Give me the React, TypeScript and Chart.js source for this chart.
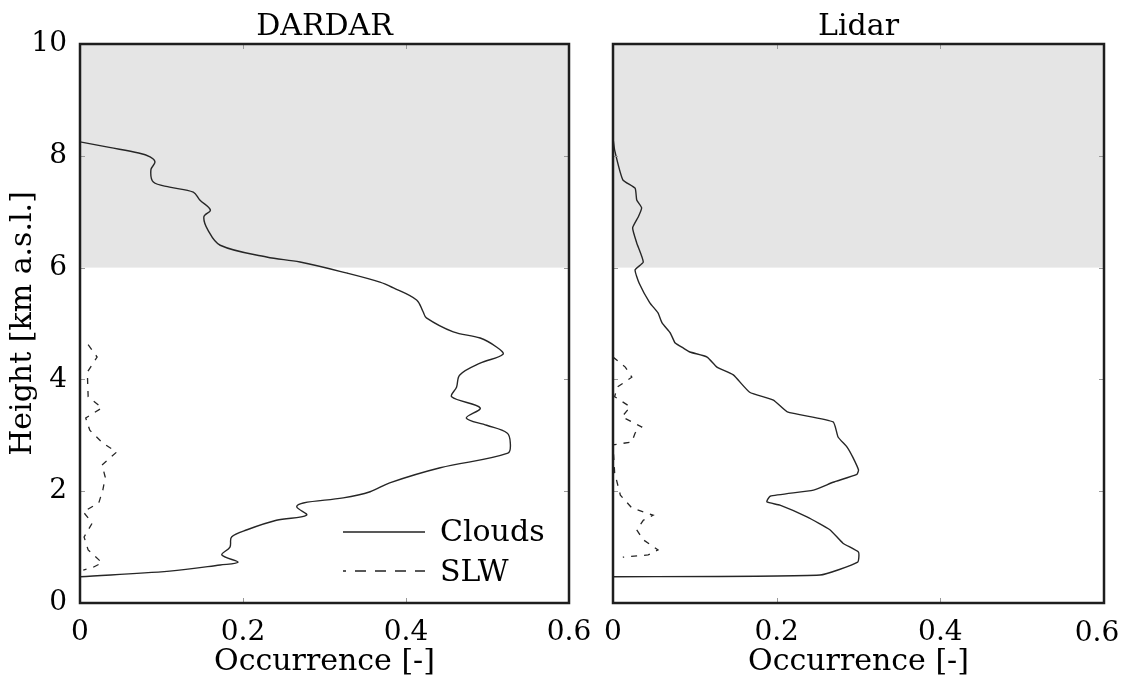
import React, { useEffect, useRef } from "react";
import { Chart, registerables } from "chart.js";

Chart.register(...registerables);

// ---------- data ----------
const panelTitles = ["DARDAR", "Lidar"];
const seriesNames = ["Clouds", "SLW"];
const yTickValues = [0, 2, 4, 6, 8, 10];
const yTickLabels = ["0", "2", "4", "6", "8", "10"];
const xTickValues = [0, 0.2, 0.4, 0.6];
const xTickLabels = ["0", "0.2", "0.4", "0.6"];
const shadeFrom = 6;
const shadeTo = 10;

const dardarCloudHeight = [8.25, 8.15, 8.05, 7.98, 7.89, 7.75, 7.53, 7.44, 7.35, 7.21, 7.03, 6.91, 6.67, 6.4, 6.19, 6.1, 5.9, 5.74, 5.64, 5.42, 5.21, 5.1, 4.85, 4.74, 4.58, 4.45, 4.29, 4.08, 3.86, 3.69, 3.49, 3.31, 3.18, 3.04, 2.86, 2.68, 2.42, 2.15, 1.99, 1.88, 1.79, 1.72, 1.57, 1.48, 1.31, 1.18, 1.0, 0.86, 0.73, 0.68, 0.57, 0.47];
const dardarCloudOcc = [0.0, 0.036, 0.072, 0.086, 0.092, 0.087, 0.09, 0.11, 0.139, 0.147, 0.16, 0.152, 0.157, 0.172, 0.229, 0.27, 0.328, 0.368, 0.384, 0.413, 0.421, 0.425, 0.458, 0.491, 0.511, 0.519, 0.491, 0.466, 0.462, 0.456, 0.491, 0.474, 0.499, 0.524, 0.528, 0.525, 0.442, 0.38, 0.356, 0.323, 0.274, 0.266, 0.278, 0.241, 0.205, 0.186, 0.184, 0.174, 0.194, 0.172, 0.11, 0.0];

const dardarSlwHeight = [4.62, 4.4, 4.13, 3.69, 3.49, 3.31, 3.09, 2.86, 2.7, 2.47, 2.25, 2.02, 1.79, 1.63, 1.43, 1.18, 0.95, 0.72, 0.63, 0.59];
const dardarSlwOcc = [0.01, 0.021, 0.009, 0.01, 0.027, 0.007, 0.012, 0.028, 0.045, 0.027, 0.031, 0.028, 0.023, 0.004, 0.015, 0.005, 0.01, 0.027, 0.015, 0.004];

const lidarCloudHeight = [8.32, 8.1, 7.57, 7.42, 7.21, 7.07, 6.91, 6.71, 6.44, 6.1, 5.96, 5.72, 5.37, 5.19, 5.01, 4.83, 4.65, 4.56, 4.49, 4.4, 4.22, 4.08, 3.77, 3.63, 3.42, 3.24, 2.97, 2.79, 2.61, 2.38, 2.3, 2.16, 2.02, 1.91, 1.81, 1.75, 1.54, 1.31, 1.07, 0.91, 0.73, 0.5, 0.47];
const lidarCloudOcc = [0.0, 0.002, 0.012, 0.027, 0.029, 0.035, 0.031, 0.024, 0.029, 0.037, 0.027, 0.032, 0.045, 0.055, 0.06, 0.07, 0.076, 0.086, 0.094, 0.115, 0.127, 0.147, 0.167, 0.196, 0.213, 0.269, 0.275, 0.286, 0.293, 0.3, 0.298, 0.269, 0.245, 0.192, 0.188, 0.204, 0.237, 0.265, 0.281, 0.3, 0.299, 0.253, 0.0];

const lidarSlwHeight = [4.4, 4.22, 4.04, 3.86, 3.69, 3.51, 3.33, 3.15, 3.04, 2.88, 2.83, 2.33, 1.93, 1.7, 1.57, 1.48, 1.31, 1.13, 0.95, 0.86, 0.82];
const lidarSlwOcc = [0.0, 0.015, 0.023, 0.005, 0.002, 0.021, 0.011, 0.035, 0.027, 0.023, 0.0, 0.002, 0.009, 0.023, 0.049, 0.037, 0.029, 0.037, 0.055, 0.043, 0.012];

// ---------- styling ----------
const FONT_FAMILY = "'DejaVu Serif', serif";
const TICK_SIZE = 28;
const LABEL_SIZE = 30;
const tickFont = { family: FONT_FAMILY, size: TICK_SIZE };
const labelFont = { family: FONT_FAMILY, size: LABEL_SIZE };

const toPoints = (h: number[], v: number[]) => h.map((hh, i) => ({ x: v[i], y: hh }));

function makeDecor(title: string, isLeft: boolean) {
  return {
    id: "decor",
    beforeDatasetsDraw(chart: any) {
      const { ctx, chartArea: a, scales } = chart;
      const y = scales.y;
      const yTop = y.getPixelForValue(shadeTo);
      const yBot = y.getPixelForValue(shadeFrom);
      ctx.save();
      ctx.fillStyle = "#e5e5e5";
      ctx.fillRect(a.left, yTop, a.right - a.left, yBot - yTop);
      ctx.restore();
    },
    afterDraw(chart: any) {
      const { ctx, chartArea: a, scales } = chart;
      const x = scales.x;
      const y = scales.y;
      ctx.save();
      // inner tick marks
      ctx.strokeStyle = "#9a9a9a";
      ctx.lineWidth = 1;
      yTickValues.slice(1, -1).forEach((v) => {
        const py = Math.round(y.getPixelForValue(v)) + 0.5;
        ctx.beginPath();
        ctx.moveTo(a.left, py);
        ctx.lineTo(a.left + 5, py);
        ctx.moveTo(a.right, py);
        ctx.lineTo(a.right - 5, py);
        ctx.stroke();
      });
      xTickValues.slice(1, -1).forEach((v) => {
        const px = Math.round(x.getPixelForValue(v)) + 0.5;
        ctx.beginPath();
        ctx.moveTo(px, a.bottom);
        ctx.lineTo(px, a.bottom - 5);
        ctx.moveTo(px, a.top);
        ctx.lineTo(px, a.top + 5);
        ctx.stroke();
      });
      // frame
      ctx.strokeStyle = "#1e1e1e";
      ctx.lineWidth = 2.5;
      ctx.strokeRect(a.left, a.top, a.right - a.left, a.bottom - a.top);
      // title
      ctx.fillStyle = "#000";
      ctx.font = `${LABEL_SIZE}px ${FONT_FAMILY}`;
      ctx.textAlign = "center";
      ctx.textBaseline = "alphabetic";
      ctx.fillText(title, (a.left + a.right) / 2, a.top - 9);
      // last x tick label of the right panel, pulled inside the page edge
      if (!isLeft) {
        const last = xTickValues.length - 1;
        ctx.font = `${TICK_SIZE}px ${FONT_FAMILY}`;
        ctx.textAlign = "center";
        ctx.textBaseline = "middle";
        ctx.fillText(xTickLabels[last], x.getPixelForValue(xTickValues[last]) - 7, a.bottom + 31);
      }
      // legend
      if (isLeft) {
        const x0 = a.right - 226;
        const x1 = a.right - 144;
        const ySolid = a.bottom - 71;
        const yDash = a.bottom - 32;
        ctx.strokeStyle = "#222";
        ctx.lineWidth = 1.6;
        ctx.beginPath();
        ctx.moveTo(x0, ySolid);
        ctx.lineTo(x1, ySolid);
        ctx.stroke();
        ctx.setLineDash([11, 9]);
        ctx.lineDashOffset = 8;
        ctx.beginPath();
        ctx.moveTo(x0, yDash);
        ctx.lineTo(x1, yDash);
        ctx.stroke();
        ctx.setLineDash([]);
        ctx.font = `${LABEL_SIZE}px ${FONT_FAMILY}`;
        ctx.textAlign = "left";
        ctx.textBaseline = "alphabetic";
        ctx.fillText(seriesNames[0], a.right - 129, ySolid + 9);
        ctx.fillText(seriesNames[1], a.right - 129, yDash + 10);
      }
      ctx.restore();
    },
  };
}

function buildConfig(idx: number): any {
  const isLeft = idx === 0;
  const cloudH = isLeft ? dardarCloudHeight : lidarCloudHeight;
  const cloudV = isLeft ? dardarCloudOcc : lidarCloudOcc;
  const slwH = isLeft ? dardarSlwHeight : lidarSlwHeight;
  const slwV = isLeft ? dardarSlwOcc : lidarSlwOcc;
  return {
    type: "scatter",
    data: {
      datasets: [
        {
          label: seriesNames[0],
          data: toPoints(cloudH, cloudV),
          showLine: true,
          borderColor: "#262626",
          borderWidth: 1.4,
          pointRadius: 0,
          tension: isLeft ? 0.35 : 0.15,
        },
        {
          label: seriesNames[1],
          data: toPoints(slwH, slwV),
          showLine: true,
          borderColor: "#262626",
          borderWidth: 1.3,
          borderDash: [6, 7],
          pointRadius: 0,
          tension: 0,
        },
      ],
    },
    options: {
      animation: false,
      responsive: false,
      maintainAspectRatio: false,
      events: [],
      layout: {
        padding: isLeft
          ? { top: 44, left: 0, right: 51, bottom: 0 }
          : { top: 44, left: 23, right: 46, bottom: 0 },
      },
      plugins: {
        legend: { display: false },
        title: { display: false },
        tooltip: { enabled: false },
      },
      scales: {
        x: {
          type: "linear",
          min: 0,
          max: 0.6,
          afterBuildTicks: (s: any) => {
            s.ticks = xTickValues.map((v) => ({ value: v }));
          },
          ticks: {
            font: tickFont,
            color: "#000",
            padding: 13,
            maxRotation: 0,
            autoSkip: false,
            callback: (_v: any, i: number) =>
              !isLeft && i === xTickLabels.length - 1 ? "" : xTickLabels[i],
          },
          grid: { display: false, drawTicks: false },
          border: { display: false },
          title: {
            display: true,
            text: "Occurrence [-]",
            font: labelFont,
            color: "#000",
            padding: { top: 0, bottom: 0 },
          },
          afterFit: (s: any) => {
            s.height = 77;
          },
        },
        y: {
          type: "linear",
          min: 0,
          max: 10,
          display: isLeft,
          afterBuildTicks: (s: any) => {
            s.ticks = yTickValues.map((v) => ({ value: v }));
          },
          ticks: {
            font: tickFont,
            color: "#000",
            padding: 13,
            callback: (_v: any, i: number) => yTickLabels[i],
          },
          grid: { display: false, drawTicks: false },
          border: { display: false },
          title: {
            display: isLeft,
            text: "Height [km a.s.l.]",
            font: labelFont,
            color: "#000",
            padding: { top: 5, bottom: 0 },
          },
          afterFit: (s: any) => {
            s.width = isLeft ? 80 : 0;
          },
        },
      },
    },
    plugins: [makeDecor(panelTitles[idx], isLeft)],
  };
}

function Panel({ idx, left, width }: { idx: number; left: number; width: number }) {
  const ref = useRef<HTMLCanvasElement | null>(null);
  useEffect(() => {
    if (!ref.current) return;
    const chart = new Chart(ref.current, buildConfig(idx));
    return () => chart.destroy();
  }, [idx]);
  return (
    <canvas
      ref={ref}
      width={width}
      height={680}
      style={{ position: "absolute", left, top: 0, width, height: 680 }}
    />
  );
}

export default function App() {
  return (
    <div
      style={{
        position: "fixed",
        left: 0,
        top: 0,
        width: 1121,
        height: 680,
        overflow: "hidden",
        background: "#fff",
      }}
    >
      <Panel idx={0} left={0} width={620} />
      <Panel idx={1} left={590} width={560} />
    </div>
  );
}
